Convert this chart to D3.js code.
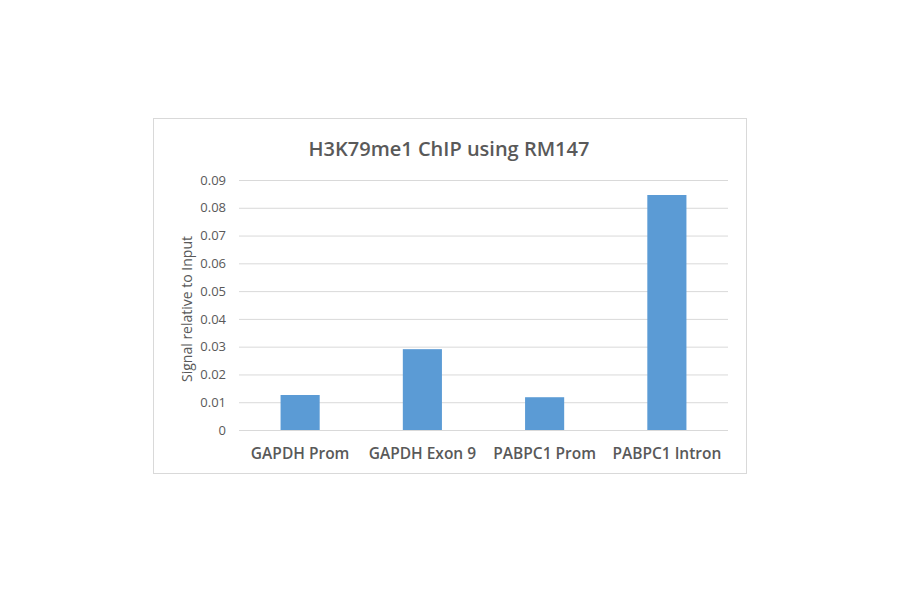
<!DOCTYPE html>
<html><head><meta charset="utf-8">
<script src="https://cdn.jsdelivr.net/npm/d3@7"></script>
<style>body{margin:0;background:#fff}</style>
</head><body>
<svg id="c" width="900" height="594"></svg>
<script>
const categories = ["GAPDH Prom", "GAPDH Exon 9", "PABPC1 Prom", "PABPC1 Intron"];
const values = [0.0126, 0.0291, 0.0118, 0.0846];
const yTicks = [0, 0.01, 0.02, 0.03, 0.04, 0.05, 0.06, 0.07, 0.08, 0.09];
const title = "H3K79me1 ChIP using RM147";
const yLabel = "Signal relative to Input";

const svg = d3.select("#c");
const font = "'Open Sans', 'Liberation Sans', sans-serif";
const m = {left: 239, right: 728, top: 180, bottom: 430};

svg.append("rect").attr("x", 153.5).attr("y", 118.5).attr("width", 593).attr("height", 355)
  .attr("fill", "#fff").attr("stroke", "#d9d9d9").attr("stroke-width", 1);

const x = d3.scaleBand().domain(categories).range([m.left, m.right]).paddingInner(0.68).paddingOuter(0.34);
const y = d3.scaleLinear().domain([0, 0.09]).range([m.bottom, m.top]);

const yAxis = d3.axisLeft(y).tickValues(yTicks).tickSize(-(m.right - m.left)).tickFormat(d => d === 0 ? "0" : d3.format(".2f")(d));
const gy = svg.append("g").attr("transform", `translate(${m.left},0)`).call(yAxis);
gy.select(".domain").remove();
gy.selectAll(".tick line").attr("stroke", "#d9d9d9");
gy.selectAll(".tick text").attr("x", -13).attr("fill", "#595959").style("font-family", font).style("font-size", "13px");

svg.append("g").selectAll("rect").data(values).join("rect")
  .attr("x", (d, i) => x(categories[i]))
  .attr("width", x.bandwidth())
  .attr("y", d => y(d))
  .attr("height", d => y(0) - y(d))
  .attr("fill", "#5b9bd5");

const xAxis = d3.axisBottom(x).tickSize(0);
const gx = svg.append("g").attr("transform", `translate(0,${m.bottom})`).call(xAxis);
gx.select(".domain").remove();
gx.selectAll(".tick text").attr("dy", 0).attr("y", 29).attr("fill", "#595959")
  .style("font-family", font).style("font-size", "15.5px").style("font-weight", "600");

svg.append("text").attr("x", 449).attr("y", 156).attr("text-anchor", "middle")
  .attr("fill", "#595959").style("font-family", font).style("font-size", "20px").style("font-weight", "600")
  .text(title);

svg.append("text").attr("transform", `translate(192,309) rotate(-90)`).attr("text-anchor", "middle")
  .attr("fill", "#595959").style("font-family", font).style("font-size", "14px")
  .text(yLabel);
</script>
</body></html>
